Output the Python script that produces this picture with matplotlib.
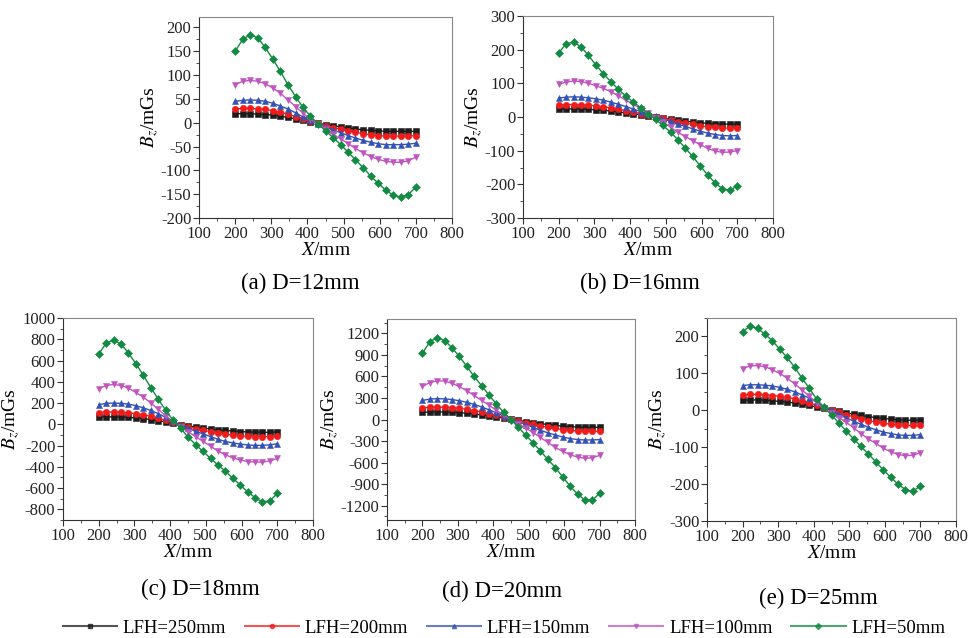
import numpy as np
import matplotlib
matplotlib.use("Agg")
import matplotlib.pyplot as plt
from matplotlib.lines import Line2D
from matplotlib.ticker import MultipleLocator

plt.rcParams["font.family"] = ["Liberation Serif", "DejaVu Serif"]
plt.rcParams["mathtext.fontset"] = "stix"
plt.rcParams["axes.unicode_minus"] = False

# Measurement positions along the line (mm)
x_mm = [200, 221, 242, 263, 283, 304, 325, 346, 367, 388, 408, 429, 450,
        471, 492, 513, 533, 554, 575, 596, 617, 638, 658, 679, 700]

lfh_labels = ["LFH=250mm", "LFH=200mm", "LFH=150mm", "LFH=100mm", "LFH=50mm"]
colors = ["#1c1c1c", "#f01c1c", "#3352b5", "#c055c0", "#138a42"]
markers = ["s", "o", "^", "v", "D"]

# D = 12 mm
bz_d12 = [
    [19, 19, 19, 18, 17, 16, 14, 11, 8, 5, 2, -1, -4, -6, -9, -11, -13, -15, -16, -17, -18, -18, -18, -18, -18],
    [29, 30, 30, 29, 28, 25, 22, 18, 13, 8, 3, -1, -6, -10, -14, -17, -20, -23, -25, -27, -28, -28, -28, -28, -27],
    [45, 47, 48, 47, 45, 41, 35, 29, 21, 12, 5, -2, -9, -15, -21, -27, -32, -37, -41, -44, -46, -46, -46, -45, -43],
    [80, 87, 89, 87, 82, 73, 62, 48, 34, 20, 8, -3, -14, -24, -34, -44, -54, -63, -71, -77, -81, -83, -83, -80, -72],
    [150, 175, 185, 178, 158, 134, 108, 80, 55, 32, 14, -2, -17, -31, -46, -62, -78, -94, -112, -127, -142, -152, -156, -151, -135],
]

# D = 16 mm
bz_d16 = [
    [23, 24, 24, 24, 23, 21, 20, 18, 15, 12, 10, 7, 4, 1, -3, -6, -9, -12, -15, -17, -19, -20, -21, -21, -21],
    [35, 37, 37, 36, 35, 33, 30, 27, 23, 19, 15, 10, 5, 1, -4, -9, -14, -18, -22, -26, -29, -31, -33, -33, -33],
    [56, 59, 60, 59, 57, 54, 50, 44, 38, 31, 24, 16, 9, 2, -6, -13, -21, -28, -35, -42, -48, -52, -55, -56, -55],
    [97, 104, 107, 105, 100, 93, 85, 75, 63, 50, 38, 25, 12, -2, -15, -30, -45, -58, -70, -82, -93, -101, -105, -104, -100],
    [190, 218, 222, 208, 183, 155, 128, 105, 82, 62, 45, 28, 10, -7, -25, -45, -67, -92, -117, -145, -172, -196, -213, -218, -204],
]

# D = 18 mm
bz_d18 = [
    [68, 70, 70, 68, 65, 60, 53, 45, 35, 23, 10, -3, -15, -25, -35, -44, -52, -58, -63, -68, -72, -74, -75, -75, -73],
    [110, 115, 115, 112, 108, 100, 90, 75, 58, 38, 18, -5, -22, -40, -55, -70, -82, -93, -102, -108, -113, -115, -115, -115, -113],
    [185, 197, 200, 197, 190, 175, 155, 130, 100, 65, 30, -5, -35, -65, -90, -115, -140, -160, -175, -185, -195, -198, -198, -193, -183],
    [335, 365, 375, 365, 340, 300, 255, 200, 140, 80, 25, -25, -70, -115, -160, -205, -250, -285, -315, -335, -350, -355, -355, -345, -320],
    [660, 765, 790, 755, 670, 572, 460, 345, 235, 130, 40, -35, -120, -190, -255, -320, -380, -440, -505, -570, -635, -690, -730, -720, -650],
]

# D = 20 mm
bz_d20 = [
    [100, 105, 106, 104, 101, 95, 87, 77, 65, 52, 37, 20, 3, -13, -28, -43, -57, -70, -82, -92, -100, -106, -110, -110, -108],
    [160, 170, 172, 170, 165, 155, 142, 125, 105, 82, 58, 32, 5, -20, -45, -68, -90, -108, -125, -140, -152, -160, -165, -165, -163],
    [265, 285, 290, 287, 278, 262, 240, 210, 175, 135, 95, 50, 5, -30, -70, -110, -150, -185, -215, -245, -265, -280, -285, -285, -280],
    [460, 515, 540, 535, 505, 460, 400, 335, 265, 200, 130, 60, 0, -60, -120, -185, -250, -320, -390, -445, -490, -525, -540, -535, -500],
    [920, 1085, 1140, 1100, 1000, 880, 740, 600, 470, 340, 220, 100, 0, -110, -220, -330, -440, -555, -670, -800, -930, -1040, -1120, -1125, -1030],
]

# D = 25 mm
bz_d25 = [
    [27, 28, 28, 27, 26, 24, 22, 20, 17, 13, 9, 5, 1, -3, -7, -11, -14, -17, -20, -22, -24, -26, -27, -27, -27],
    [42, 43, 43, 42, 40, 38, 35, 31, 26, 20, 14, 7, 1, -6, -12, -18, -23, -28, -32, -35, -38, -40, -41, -41, -41],
    [67, 69, 69, 68, 66, 62, 57, 50, 42, 33, 22, 10, 0, -10, -20, -30, -38, -46, -53, -59, -63, -67, -68, -68, -66],
    [113, 120, 121, 118, 110, 100, 87, 72, 55, 38, 20, 5, -8, -20, -33, -48, -63, -78, -90, -103, -113, -120, -123, -122, -115],
    [213, 228, 222, 206, 189, 166, 143, 117, 87, 59, 30, 8, -12, -35, -57, -78, -98, -119, -140, -162, -182, -201, -215, -220, -204],
]

W, H = 969, 638

# panel: data, caption, pixel box (left, top, right, bottom), ylim, major, minor, caption position
panels = [
    (bz_d12, "(a) D=12mm", (199, 17, 452, 218), (-200, 222), 50, 25, (300, 283)),
    (bz_d16, "(b) D=16mm", (523, 16, 773, 218), (-300, 300), 100, 50, (640, 283)),
    (bz_d18, "(c) D=18mm", (63, 318, 313, 520), (-900, 1000), 200, 100, (200, 589)),
    (bz_d20, "(d) D=20mm", (387, 319, 635, 520), (-1400, 1400), 300, 150, (502, 591)),
    (bz_d25, "(e) D=25mm", (707, 318, 956, 521), (-300, 250), 100, 50, (818, 598)),
]

fig = plt.figure(figsize=(W / 100, H / 100), dpi=100)

for data, caption, box, ylim, major, minor, cap in panels:
    l, t, r, b = box
    ax = fig.add_axes([l / W, 1 - b / H, (r - l) / W, (b - t) / H])
    for vals, c, m in zip(data, colors, markers):
        ms = 4.0 if m == "D" else 4.6
        ax.plot(x_mm, vals, color=c, marker=m, markersize=ms,
                linewidth=1.0, markeredgewidth=0.4, markeredgecolor=c)
    ax.set_xlim(100, 800)
    ax.set_ylim(*ylim)
    ax.xaxis.set_major_locator(MultipleLocator(100))
    ax.xaxis.set_minor_locator(MultipleLocator(50))
    ax.yaxis.set_major_locator(MultipleLocator(major))
    ax.yaxis.set_minor_locator(MultipleLocator(minor))
    ax.tick_params(which="both", direction="out", top=False, right=False,
                   labelsize=12, colors="#333333", pad=1.5)
    ax.tick_params(which="major", length=4, width=0.8)
    ax.tick_params(which="minor", length=2.5, width=0.6)
    for side in ["left", "bottom"]:
        ax.spines[side].set_color("#333333")
    for side in ["right", "top"]:
        ax.spines[side].set_color("#888888")
    for lab in ax.get_xticklabels() + ax.get_yticklabels():
        lab.set_color("#222222")
    ax.set_xlabel(r"$X$/mm", fontsize=14, labelpad=0)
    ax.set_ylabel(r"$B_z$/mGs", fontsize=14, labelpad=0)
    fig.text(cap[0] / W, 1 - cap[1] / H, caption, fontsize=16.5,
             ha="center", va="center")

handles = [Line2D([0], [0], color=c, marker=m, markersize=3, linewidth=1.5,
                  alpha=0.75) for c, m in zip(colors, markers)]
fig.legend(handles, lfh_labels, loc="center", ncol=5,
           bbox_to_anchor=(0.52, 1 - 628 / H), frameon=False, fontsize=13.5,
           handlelength=2.9, handletextpad=0.3, columnspacing=1.0,
           borderpad=0)

fig.savefig("out.png", dpi=100)
